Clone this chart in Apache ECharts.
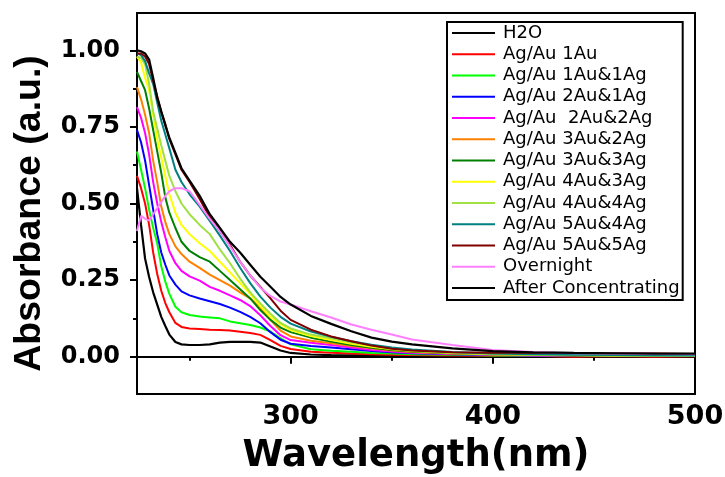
<!DOCTYPE html>
<html>
<head>
<meta charset="utf-8">
<script src="https://cdn.jsdelivr.net/npm/echarts@6/dist/echarts.min.js"></script>
<style>html,body{margin:0;padding:0;background:#fff;}#c{width:725px;height:477px;}</style>
</head>
<body>
<div id="c"></div>
<script>
var wavelength = [224,226,228,230,232,234,236,238,240,243,246,250,255,260,265,270,275,280,285,290,295,300,310,320,330,340,350,360,380,400,420,440,460,480,500];

var h2o      = [0.55,0.43,0.32,0.26,0.21,0.17,0.13,0.10,0.072,0.048,0.040,0.038,0.038,0.040,0.046,0.048,0.048,0.048,0.046,0.033,0.020,0.012,0.007,0.005,0.004,0.004,0.003,0.003,0.003,0.002,0.002,0.002,0.002,0.002,0.002];
var au1      = [0.59,0.55,0.50,0.43,0.34,0.27,0.215,0.175,0.145,0.110,0.097,0.092,0.090,0.088,0.087,0.085,0.081,0.077,0.071,0.054,0.035,0.025,0.016,0.013,0.010,0.008,0.006,0.005,0.004,0.003,0.003,0.000,0.002,0.000,0.001];
var au1ag1   = [0.67,0.61,0.55,0.48,0.42,0.37,0.295,0.245,0.205,0.163,0.145,0.136,0.131,0.128,0.125,0.115,0.109,0.103,0.095,0.082,0.060,0.040,0.024,0.019,0.016,0.012,0.010,0.008,0.006,0.004,0.003,0.003,0.002,0.002,0.002];
var au2ag1   = [0.74,0.70,0.64,0.56,0.48,0.40,0.34,0.30,0.265,0.235,0.213,0.200,0.190,0.181,0.172,0.160,0.146,0.130,0.109,0.080,0.055,0.042,0.035,0.030,0.024,0.018,0.014,0.011,0.008,0.005,0.004,0.003,0.003,0.002,0.002];
var au2ag2   = [0.815,0.78,0.73,0.66,0.57,0.50,0.44,0.39,0.345,0.305,0.280,0.262,0.248,0.228,0.215,0.200,0.185,0.165,0.135,0.100,0.070,0.054,0.045,0.038,0.030,0.022,0.017,0.013,0.009,0.006,0.004,0.003,0.003,0.002,0.002];
var au3ag2   = [0.88,0.84,0.79,0.73,0.64,0.57,0.49,0.44,0.40,0.36,0.335,0.310,0.290,0.268,0.250,0.232,0.210,0.190,0.160,0.120,0.085,0.066,0.052,0.044,0.035,0.027,0.020,0.015,0.010,0.007,0.005,0.004,0.003,0.003,0.002];
var au3ag3   = [0.93,0.90,0.87,0.81,0.74,0.67,0.60,0.52,0.47,0.42,0.375,0.345,0.325,0.310,0.280,0.250,0.220,0.190,0.152,0.120,0.095,0.080,0.062,0.049,0.038,0.029,0.022,0.017,0.011,0.008,0.006,0.004,0.004,0.003,0.003];
var au4ag3   = [0.98,0.96,0.91,0.87,0.79,0.71,0.65,0.59,0.53,0.47,0.43,0.40,0.37,0.345,0.310,0.275,0.240,0.205,0.165,0.130,0.105,0.087,0.067,0.054,0.042,0.032,0.024,0.018,0.012,0.008,0.006,0.005,0.004,0.003,0.003];
var au4ag4   = [0.98,0.975,0.955,0.89,0.80,0.745,0.69,0.64,0.59,0.54,0.50,0.465,0.43,0.40,0.35,0.305,0.255,0.21,0.174,0.140,0.110,0.092,0.072,0.060,0.047,0.036,0.027,0.020,0.013,0.009,0.007,0.005,0.004,0.004,0.003];
var au5ag4   = [0.99,0.985,0.965,0.925,0.89,0.83,0.77,0.725,0.68,0.61,0.57,0.53,0.49,0.443,0.395,0.345,0.29,0.24,0.196,0.160,0.130,0.108,0.082,0.065,0.050,0.039,0.030,0.023,0.015,0.010,0.008,0.006,0.005,0.004,0.004];
var au5ag5   = [0.99,0.99,0.98,0.955,0.90,0.85,0.80,0.76,0.71,0.66,0.61,0.57,0.515,0.455,0.41,0.365,0.31,0.265,0.228,0.190,0.150,0.120,0.088,0.066,0.050,0.036,0.026,0.020,0.014,0.013,0.013,0.012,0.011,0.010,0.009];
var overnight= [0.41,0.46,0.45,0.445,0.465,0.485,0.505,0.525,0.54,0.55,0.55,0.54,0.495,0.45,0.41,0.36,0.31,0.265,0.225,0.198,0.180,0.170,0.148,0.128,0.105,0.088,0.072,0.056,0.038,0.022,0.015,0.011,0.010,0.009,0.008];
var afterConc= [1.0,0.997,0.99,0.97,0.91,0.845,0.80,0.755,0.715,0.665,0.615,0.575,0.525,0.465,0.42,0.375,0.34,0.30,0.261,0.228,0.195,0.170,0.133,0.107,0.083,0.062,0.049,0.040,0.027,0.018,0.014,0.012,0.011,0.010,0.010];

var seriesNames = ['H2O','Ag/Au 1Au','Ag/Au 1Au&1Ag','Ag/Au 2Au&1Ag','Ag/Au  2Au&2Ag','Ag/Au 3Au&2Ag','Ag/Au 3Au&3Ag','Ag/Au 4Au&3Ag','Ag/Au 4Au&4Ag','Ag/Au 5Au&4Ag','Ag/Au 5Au&5Ag','Overnight','After Concentrating'];
var seriesValues = [h2o,au1,au1ag1,au2ag1,au2ag2,au3ag2,au3ag3,au4ag3,au4ag4,au5ag4,au5ag5,overnight,afterConc];
var seriesColors = ['#000000','#ff0000','#00ff00','#0000ff','#ff00ff','#ff8000','#008000','#ffff00','#a0e040','#008080','#800000','#ff80ff','#000000'];

var xMajor = [300,400,500];
var xMinor = [250,350,450];
var yMajor = [0,0.25,0.5,0.75,1.0];
var yMinor = [0.125,0.375,0.625,0.875];

var chart = echarts.init(document.getElementById('c'), null, {renderer:'canvas'});
var series = seriesNames.map(function(n,i){
  return {
    name:n, type:'line', symbol:'none', showSymbol:false, smooth:false,
    data: wavelength.map(function(w,j){return [w, seriesValues[i][j]];}),
    lineStyle:{color:seriesColors[i], width: (seriesColors[i]==='#000000')?2.2:2},
    itemStyle:{color:seriesColors[i]},
    xAxisIndex:0, yAxisIndex:0, animation:false
  };
});
var axisFont = 'DejaVu Sans';
chart.setOption({
  animation:false,
  backgroundColor:'#fff',
  grid:{left:137, right:30, top:13, bottom:83, show:true, borderColor:'#000', borderWidth:2, containLabel:false, outerBoundsMode:'none'},
  legend:{
    orient:'vertical', left:447, top:22,
    padding:[2,3,3,5],
    borderColor:'#000', borderWidth:2, backgroundColor:'#fff',
    icon:'rect',
    itemWidth:43, itemHeight:2, itemGap:3.25,
    textStyle:{fontFamily:axisFont, fontSize:18, color:'#000', padding:[0,0,0,3]},
    data: seriesNames
  },
  xAxis:[{
    type:'value', min:224, max:500, position:'bottom',
    axisLine:{show:true, lineStyle:{color:'#000', width:2}},
    axisTick:{show:true, inside:false, length:7, lineStyle:{color:'#000', width:2}, customValues:xMajor},
    axisLabel:{customValues:xMajor, fontFamily:axisFont, fontWeight:'bold', fontSize:27, color:'#000', margin:9},
    splitLine:{show:false},
    name:'Wavelength(nm)', nameLocation:'middle', nameGap:44,
    nameTextStyle:{fontFamily:axisFont, fontWeight:'bold', fontSize:37, color:'#000'}
  },{
    type:'value', min:224, max:500, position:'bottom',
    axisLine:{show:false},
    axisTick:{show:true, inside:false, length:4, lineStyle:{color:'#000', width:2}, customValues:xMinor},
    axisLabel:{show:false}, splitLine:{show:false}
  }],
  yAxis:[{
    type:'value', min:-0.122, max:1.122, position:'left',
    axisLine:{show:true, lineStyle:{color:'#000', width:2}},
    axisTick:{show:true, inside:false, length:7, lineStyle:{color:'#000', width:2}, customValues:yMajor},
    axisLabel:{customValues:yMajor, formatter:function(v){return v.toFixed(2);}, fontFamily:axisFont, fontWeight:'bold', fontSize:24, color:'#000', margin:17},
    splitLine:{show:false},
    name:'Absorbance (a.u.)', nameLocation:'middle', nameGap:88, nameRotate:90,
    nameTextStyle:{fontFamily:'Liberation Sans', fontWeight:'bold', fontSize:37.5, color:'#000', padding:[0,20,0,0]}
  },{
    type:'value', min:-0.122, max:1.122, position:'left',
    axisLine:{show:false},
    axisTick:{show:true, inside:false, length:4, lineStyle:{color:'#000', width:2}, customValues:yMinor},
    axisLabel:{show:false}, splitLine:{show:false}
  }],
  series: series
});
</script>
</body>
</html>
